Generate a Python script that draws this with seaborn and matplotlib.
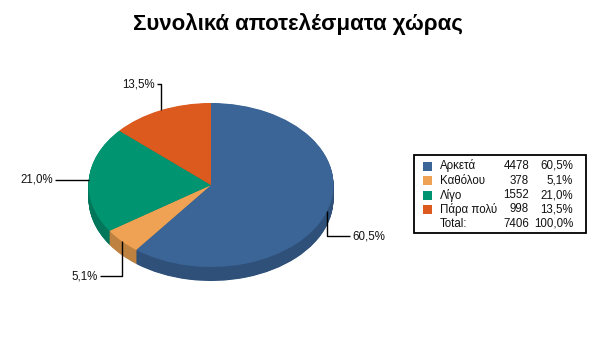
import numpy as np
import matplotlib
matplotlib.use("Agg")
import matplotlib.pyplot as plt
import seaborn as sns
from matplotlib.patches import Rectangle

# data
categories = ["Αρκετά", "Καθόλου", "Λίγο", "Πάρα πολύ"]
counts = [4478, 378, 1552, 998]
title = "Συνολικά αποτελέσματα χώρας"

# styles
top_colors = ["#3B6597", "#EFA254", "#009470", "#DD5A1E"]
side_colors = ["#2E5079", "#BE813F", "#00775A", "#B04818"]

W, H = 596, 361
CX, CY = 211, 185      # pie centre in px (from top-left)
RX, RY = 122.5, 82     # ellipse radii in px
DEPTH = 14             # 3d thickness in px

# leader-line routes as px offsets from the wedge mid-point (y down)
leaders = [
    [(0, 25), (23, 25)],
    [(0, 35), (-22, 35)],
    [(-34, 0)],
    [(0, -26), (-4, -26)],
]
label_ha = ["left", "right", "right", "right"]

sns.set_style("white")
plt.rcParams["font.family"] = ["Liberation Sans", "DejaVu Sans"]


def fmt_pct(v: float) -> str:
    return f"{v:.1f}%".replace(".", ",")


total = sum(counts)
pcts = [c / total * 100 for c in counts]

fig = plt.figure(figsize=(W / 100, H / 100), dpi=100)
fig.patch.set_facecolor("white")
ax = fig.add_axes([0, 0, 1, 1])

# side of the "3d" pie: stacked copies shifted down
for d in np.linspace(DEPTH, 0.5, 30):
    ax.pie(counts, colors=side_colors, startangle=90, counterclock=False,
           center=(0, -d / RY), wedgeprops=dict(linewidth=0))
wedges, _ = ax.pie(counts, colors=top_colors, startangle=90, counterclock=False,
                   wedgeprops=dict(linewidth=0))

ax.set_aspect("auto")
ax.set_xlim(-CX / RX, (W - CX) / RX)
ax.set_ylim(-(H - CY) / RY, CY / RY)
ax.axis("off")

# leader lines + percentage labels
for w, route, ha, p in zip(wedges, leaders, label_ha, pcts):
    mid = np.deg2rad((w.theta1 + w.theta2) / 2)
    x0, y0 = np.cos(mid), np.sin(mid)
    xs = [x0] + [x0 + dx / RX for dx, dy in route]
    ys = [y0] + [y0 - dy / RY for dx, dy in route]
    ax.plot(xs, ys, color="black", lw=1, solid_capstyle="butt")
    off = 2 / RX if ha == "left" else -2 / RX
    ax.text(xs[-1] + off, ys[-1], fmt_pct(p), ha=ha, va="center",
            fontsize=8.3, color="#111111")

# legend table, drawn in pixel coordinates
lax = fig.add_axes([0, 0, 1, 1], facecolor="none")
lax.set_xlim(0, W)
lax.set_ylim(H, 0)
lax.axis("off")
lax.add_patch(Rectangle((414, 155), 172, 78, fill=False, edgecolor="black", lw=1.3))
row0, step = 166, 14.5
for i, (cat, c, p) in enumerate(zip(categories, counts, pcts)):
    y = row0 + i * step
    lax.add_patch(Rectangle((423, y - 4.5), 9, 9, facecolor=top_colors[i], edgecolor="none"))
    lax.text(440, y, cat, ha="left", va="center", fontsize=8.3, color="#111111")
    lax.text(529, y, str(c), ha="right", va="center", fontsize=8.3, color="#111111")
    lax.text(573, y, fmt_pct(p), ha="right", va="center", fontsize=8.3, color="#111111")
y = row0 + len(categories) * step
lax.text(440, y, "Total:", ha="left", va="center", fontsize=8.3, color="#111111")
lax.text(529, y, str(total), ha="right", va="center", fontsize=8.3, color="#111111")
lax.text(573, y, fmt_pct(100), ha="right", va="center", fontsize=8.3, color="#111111")

fig.text(0.5, 1 - 24 / H, title, ha="center", va="center",
         fontsize=16, fontweight="bold", color="black")

fig.savefig("out.png", dpi=100, facecolor="white")
